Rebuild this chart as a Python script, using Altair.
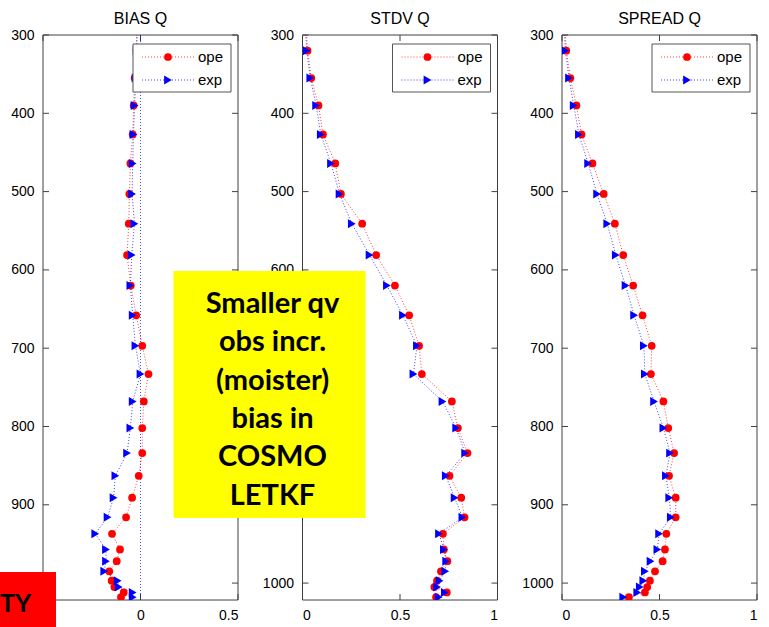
import altair as alt
import pandas as pd

# Pressure levels (hPa) of the verification profile
levels = [280, 320, 355, 390, 427, 464, 503, 541, 581, 620, 658, 697, 733, 768,
          802, 834, 863, 891, 916, 937, 957, 972, 985, 997, 1005, 1012, 1018]

bias_ope = [-0.02, -0.02, -0.03, -0.035, -0.04, -0.052, -0.057, -0.06, -0.069, -0.05,
            -0.022, 0.009, 0.041, 0.017, 0.009, 0.009, -0.009, -0.043, -0.074, -0.146,
            -0.105, -0.122, -0.16, -0.148, -0.134, -0.086, -0.1]
bias_exp = [-0.015, -0.02, -0.025, -0.03, -0.036, -0.04, -0.043, -0.031, -0.045, -0.052,
            -0.04, -0.026, 0.0, -0.04, -0.052, -0.069, -0.129, -0.138, -0.169, -0.232,
            -0.177, -0.177, -0.186, -0.117, -0.112, -0.04, -0.04]

stdv_ope = [0.015, 0.026, 0.045, 0.082, 0.105, 0.168, 0.197, 0.306, 0.378, 0.474,
            0.547, 0.598, 0.612, 0.766, 0.797, 0.846, 0.754, 0.814, 0.831, 0.72,
            0.725, 0.743, 0.71, 0.69, 0.676, 0.74, 0.685]
stdv_exp = [0.012, 0.022, 0.04, 0.07, 0.094, 0.146, 0.19, 0.253, 0.344, 0.433,
            0.515, 0.587, 0.569, 0.718, 0.788, 0.834, 0.735, 0.78, 0.82, 0.70,
            0.725, 0.737, 0.732, 0.703, 0.69, 0.73, 0.698]

spread_ope = [0.012, 0.022, 0.043, 0.074, 0.1, 0.156, 0.214, 0.271, 0.314, 0.365,
              0.413, 0.46, 0.456, 0.52, 0.545, 0.575, 0.549, 0.583, 0.583, 0.535,
              0.528, 0.516, 0.477, 0.451, 0.437, 0.425, 0.343]
spread_exp = [0.01, 0.017, 0.036, 0.06, 0.087, 0.134, 0.18, 0.232, 0.276, 0.326,
              0.37, 0.42, 0.425, 0.472, 0.52, 0.554, 0.533, 0.55, 0.558, 0.498,
              0.489, 0.454, 0.425, 0.417, 0.399, 0.386, 0.314]

y_ticks = [300, 400, 500, 600, 700, 800, 900, 1000]
bias_ticks = [-0.5, 0, 0.5]
bias_labels = [0, 0.5]
unit_ticks = [0, 0.5, 1]

series_names = ["ope", "exp"]
series_colors = ["red", "blue"]
series_shapes = ["circle", "triangle-right"]
series_sizes = [60, 80]

box_lines = ["Smaller qv", "obs incr.", "(moister)", "bias in", "COSMO", "LETKF"]
corner_text = "TY"

W, H = 195, 565
TICK = 6
P_MIN, P_MAX = 300, 1021.6
AXIS_GREY = "#404040"
LABEL_FONT = "Liberation Sans"
BOX_FONT = "Lato"

y_scale = alt.Scale(domain=[P_MIN, P_MAX], reverse=True, nice=False, zero=False)
y_axis = alt.Axis(values=y_ticks, format="d", labelPadding=9, title=None)


def one_row():
    return pd.DataFrame({"k": [0]})


def panel(title, ope, exp, x_domain, x_ticks, x_labels, zero_line=False, extras=()):
    x_scale = alt.Scale(domain=x_domain, nice=False, zero=False)
    x_axis = alt.Axis(values=x_labels, format="~g", labelPadding=8, title=None)
    x_enc = alt.X("value:Q", scale=x_scale, axis=x_axis)
    y_enc = alt.Y("level:Q", scale=y_scale, axis=y_axis)

    n = len(levels)
    df = pd.DataFrame({
        "level": levels + levels,
        "value": ope + exp,
        "series": ["ope"] * n + ["exp"] * n,
    })
    color = alt.Color("series:N", scale=alt.Scale(domain=series_names, range=series_colors), legend=None)
    shape = alt.Shape("series:N", scale=alt.Scale(domain=series_names, range=series_shapes), legend=None)
    size = alt.Size("series:N", scale=alt.Scale(domain=series_names, range=series_sizes), legend=None)

    frame = alt.Chart(one_row()).mark_rect(filled=False, stroke=AXIS_GREY, strokeWidth=1).encode(
        x=alt.value(0), x2=alt.value(W), y=alt.value(0), y2=alt.value(H))

    # inward ticks on all four sides
    ytick_df = pd.DataFrame({"level": y_ticks})
    xtick_df = pd.DataFrame({"value": x_ticks})
    ticks = [
        alt.Chart(ytick_df).mark_rule(color=AXIS_GREY).encode(y=y_enc, x=alt.value(0), x2=alt.value(TICK)),
        alt.Chart(ytick_df).mark_rule(color=AXIS_GREY).encode(y=y_enc, x=alt.value(W - TICK), x2=alt.value(W)),
        alt.Chart(xtick_df).mark_rule(color=AXIS_GREY).encode(x=x_enc, y=alt.value(H - TICK), y2=alt.value(H)),
        alt.Chart(xtick_df).mark_rule(color=AXIS_GREY).encode(x=x_enc, y=alt.value(0), y2=alt.value(TICK)),
    ]

    layers = [frame] + ticks

    if zero_line:
        layers.append(
            alt.Chart(pd.DataFrame({"value": [0]})).mark_rule(
                color="blue", strokeDash=[1, 2], strokeWidth=1, opacity=0.7
            ).encode(x=x_enc)
        )

    lines = alt.Chart(df).mark_line(strokeDash=[1, 2], strokeWidth=1, clip=True, opacity=0.75).encode(
        x=x_enc, y=y_enc, color=color, detail="series:N", order=alt.Order("level:Q"),
    )
    points = alt.Chart(df).mark_point(filled=True, opacity=1, clip=True).encode(
        x=x_enc, y=y_enc, color=color, shape=shape, size=size,
    )
    layers += [lines, points]

    # legend box in the upper right corner
    layers.append(
        alt.Chart(one_row()).mark_rect(fill="white", stroke="#555555", strokeWidth=1).encode(
            x=alt.value(90), x2=alt.value(188), y=alt.value(9), y2=alt.value(57))
    )
    for name, col, shp, sz, ly in zip(series_names, series_colors, series_shapes, series_sizes, (22, 45)):
        layers.append(
            alt.Chart(one_row()).mark_rule(color=col, strokeDash=[1, 2], strokeWidth=1, opacity=0.75).encode(
                x=alt.value(99), x2=alt.value(152), y=alt.value(ly))
        )
        layers.append(
            alt.Chart(one_row()).mark_point(filled=True, color=col, shape=shp, size=sz, opacity=1).encode(
                x=alt.value(125), y=alt.value(ly))
        )
        layers.append(
            alt.Chart(one_row()).mark_text(text=name, align="left", baseline="middle", font=LABEL_FONT,
                                           fontSize=15, color="black").encode(
                x=alt.value(155), y=alt.value(ly))
        )

    layers += list(extras)
    return alt.layer(*layers).properties(
        width=W, height=H,
        title=alt.TitleParams(title, frame="group", anchor="middle", offset=1.5),
    )


# transparent backdrop spanning the page below the titles, fixes the overall bounds
backdrop = alt.Chart(one_row()).mark_rect(fill="white", opacity=0).encode(
    x=alt.value(-43), x2=alt.value(726), y=alt.value(0), y2=alt.value(592))

red_box = alt.Chart(one_row()).mark_rect(color="red").encode(
    x=alt.value(-43), x2=alt.value(13), y=alt.value(537), y2=alt.value(592))
red_text = alt.Chart(one_row()).mark_text(
    text=corner_text, align="left", baseline="alphabetic", font=BOX_FONT,
    fontWeight="bold", fontSize=25, color="black").encode(x=alt.value(-43), y=alt.value(577))

yellow_box = alt.Chart(one_row()).mark_rect(color="#ffff00").encode(
    x=alt.value(-129), x2=alt.value(63), y=alt.value(236), y2=alt.value(483))
yellow_text = alt.Chart(one_row()).mark_text(
    text=box_lines, align="center", baseline="alphabetic", lineHeight=38.3, font=BOX_FONT,
    fontWeight="bold", fontSize=29, color="black").encode(x=alt.value(-30), y=alt.value(278))

p_bias = panel("BIAS Q", bias_ope, bias_exp, [-0.5, 0.5], bias_ticks, bias_labels, zero_line=True,
               extras=(backdrop, red_box, red_text))
p_stdv = panel("STDV Q", stdv_ope, stdv_exp, [0, 1], unit_ticks, unit_ticks,
               extras=(yellow_box, yellow_text))
p_spread = panel("SPREAD Q", spread_ope, spread_exp, [0, 1], unit_ticks, unit_ticks)

chart = alt.hconcat(p_bias, p_stdv, p_spread, spacing=64.5, bounds="flush").properties(
    padding={"left": 0, "right": 0, "top": 10, "bottom": 0}, background="white"
).configure_view(stroke=None).configure_axis(
    labelFont=LABEL_FONT, labelFontSize=14, labelColor="black",
    domain=False, ticks=False, grid=False,
).configure_title(
    font=LABEL_FONT, fontSize=16, fontWeight="normal", color="black"
)

chart.save("out.html", embed_options={"renderer": "svg", "actions": False})
